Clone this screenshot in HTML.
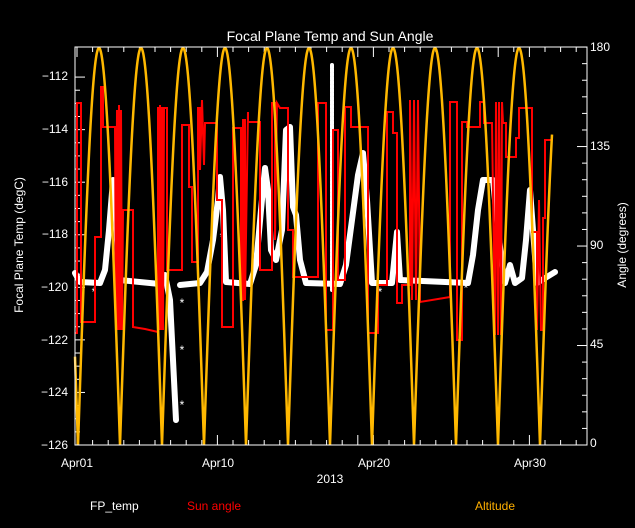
<!DOCTYPE html>
<html><head><meta charset="utf-8"><style>
html,body{margin:0;padding:0;background:#000;}
svg{display:block;font-family:"Liberation Sans",sans-serif;}
</style></head><body>
<svg id="s" width="635" height="528" viewBox="0 0 635 528" xmlns="http://www.w3.org/2000/svg">
<rect width="635" height="528" fill="#000"/>
<text x="330" y="41" fill="#fff" font-size="14" text-anchor="middle">Focal Plane Temp and Sun Angle</text>
<g fill="#fff" font-size="12" text-anchor="end">
<text x="68" y="80">−112</text><text x="68" y="133">−114</text><text x="68" y="186">−116</text><text x="68" y="238">−118</text>
<text x="68" y="291">−120</text><text x="68" y="344">−122</text><text x="68" y="396">−124</text><text x="68" y="449">−126</text>
</g>
<g fill="#fff" font-size="12">
<text x="590" y="51">180</text><text x="590" y="150">135</text><text x="590" y="249">90</text><text x="590" y="348">45</text><text x="590" y="447">0</text>
</g>
<text transform="translate(23,245) rotate(-90)" fill="#fff" font-size="12" text-anchor="middle">Focal Plane Temp (degC)</text>
<text transform="translate(626,245) rotate(-90)" fill="#fff" font-size="12" text-anchor="middle">Angle (degrees)</text>
<g fill="#fff" font-size="12" text-anchor="middle">
<text x="77" y="467">Apr01</text><text x="218" y="467">Apr10</text><text x="374" y="467">Apr20</text><text x="530" y="467">Apr30</text>
<text x="330" y="483">2013</text>
</g>
<text x="90" y="510" fill="#fff" font-size="12">FP_temp</text>
<text x="187" y="510" fill="#f00" font-size="12">Sun angle</text>
<text x="475" y="510" fill="#ffb000" font-size="12">Altitude</text>
<g id="ticks" stroke="#fff" stroke-width="1"></g>
<g fill="none" stroke="#fff" stroke-linejoin="round" stroke-linecap="round">
<polyline stroke-width="6" points="75,273 80,282 100,283 105,270 109,230 113,180 116,220 119,280 160,284 165,275 170,300 176,420"/>
<polyline stroke-width="6" points="180,285 200,283 207,272 213,240 218,200 220,177 223,210 226,282 250,284 256,265 261,210 265,168 268,190 271,250 276,260 282,230 286,130 290,127 293,207 296,215 300,260 306,283 340,284 346,265 352,220 358,175 363,153 367,200 372,283 392,283 397,232 400,280 468,283 473,255 478,210 483,180 493,180 497,220 502,265 505,283 510,265 515,283 522,278 526,240 530,190 533,230 537,283 555,272"/>
<line x1="332" y1="65" x2="332" y2="290" stroke-width="4" stroke-dasharray="3,1"/>
</g>
<g fill="#fff" font-size="12" text-anchor="middle">
<text x="94" y="296">*</text><text x="182" y="307">*</text><text x="182" y="354">*</text><text x="182" y="409">*</text>
<text x="222" y="241">*</text><text x="224" y="271">*</text><text x="267" y="204">*</text><text x="380" y="296">*</text><text x="466" y="292">*</text>
</g>
<polyline fill="none" stroke="#f00" stroke-width="2" points="75,333 77,333 77,103 81,103 81,322 95,322 95,237 101,237 101,87 103,87 103,127 115,127 116,330 117,110 118,330 119,105 120,330 121,110 122,330 123,210 133,210 133,327 145,329 158,332 158,107 159,330 160,105 161,330 162,107 163,330 164,108 167,108 167,270 182,270 182,125 189,125 189,187 192,187 192,262 198,262 198,108 200,108 200,170 202,100 204,165 205,123 217,123 217,200 222,200 222,327 233,327 233,128 241,128 241,300 243,300 243,120 245,120 245,300 248,112 248,122 260,122 260,270 272,270 272,103 275,103 275,240 277,103 280,108 288,108 288,230 293,230 293,277 318,277 318,103 326,103 326,330 333,330 333,130 338,130 338,280 345,280 345,107 351,107 351,127 368,127 368,333 378,333 378,285 387,285 387,112 393,112 393,133 397,133 397,303 402,303 402,285 410,285 410,100 412,300 414,100 416,300 418,100 420,302 450,297 450,102 457,102 457,340 462,340 462,122 467,122 467,127 480,127 480,102 484,102 484,123 492,123 495,335 496,102 498,335 499,102 501,335 502,102 503,123 506,123 506,157 516,157 516,138 519,138 519,108 532,108 532,232 537,232 537,330 539,200 541,330 543,330 543,218 545,218 545,140 552,140"/>
<path id="alt" fill="none" stroke="#ffb800" stroke-width="2.5" d=""/>
<rect x="75" y="47" width="512" height="398" fill="none" stroke="#fff" stroke-width="1"/>
</svg>
<script>
var d="";
for(var x=75;x<=552;x+=0.5){var y=445-397*Math.abs(Math.sin(Math.PI*(x-78)/42));d+=(d?"L":"M")+x+","+y.toFixed(1);}
document.getElementById("alt").setAttribute("d",d);
var t="";
for(var i=0;i<=28;i++){var y=445-i*13.14;var L=(i%4==0)?10:5;t+='<line x1="75" y1="'+y+'" x2="'+(75+L)+'" y2="'+y+'"/>';}
for(var i=0;i<=24;i++){var y=445-i*16.58;var L=(i%6==0)?10:5;t+='<line x1="587" y1="'+y+'" x2="'+(587-L)+'" y2="'+y+'"/>';}
for(var i=0;i<=32;i++){var x=77+i*15.6;if(x>587)break;var L=(i%9==0||i==19||i==29)?10:5;t+='<line x1="'+x+'" y1="445" x2="'+x+'" y2="'+(445-L)+'"/><line x1="'+x+'" y1="47" x2="'+x+'" y2="'+(47+L)+'"/>';}
document.getElementById("ticks").innerHTML=t;
</script>
</body></html>
